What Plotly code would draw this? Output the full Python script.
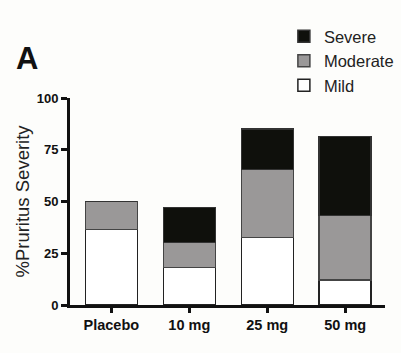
import plotly.graph_objects as go

categories = ["Placebo", "10 mg", "25 mg", "50 mg"]
mild = [36.5, 18.0, 32.5, 12.0]
moderate = [13.5, 12.3, 33.0, 31.3]
severe = [0.0, 16.7, 19.5, 38.0]
y_ticks = [0, 25, 50, 75, 100]

fig = go.Figure()
fig.add_trace(go.Bar(x=categories, y=mild, name="Mild", legendgroup="a",
                     marker=dict(color="#ffffff", line=dict(color="#222222", width=1.5))))
fig.add_trace(go.Bar(x=categories, y=moderate, name="Moderate", legendgroup="b",
                     marker=dict(color="#9a9898", line=dict(color="#444444", width=1.5))))
fig.add_trace(go.Bar(x=categories, y=severe, name="Severe", legendgroup="c",
                     marker=dict(color="#0f100c", line=dict(color="#333333", width=1.5))))

fig.update_layout(
    barmode="stack",
    bargap=0.333,
    width=401, height=353,
    margin=dict(l=70, r=16, t=98, b=48, autoexpand=False),
    paper_bgcolor="#fdfdfb",
    plot_bgcolor="#fdfdfb",
    font=dict(family="Liberation Sans, Arial, sans-serif", color="#111111"),
    showlegend=True,
    legend=dict(traceorder="reversed", x=0.679, xanchor="left", y=0.946, yanchor="top",
                yref="container", font=dict(size=16.5, color="#222222"),
                tracegroupgap=3, bgcolor="rgba(0,0,0,0)"),
    annotations=[dict(text="<b>A</b>", x=(27 - 70) / 315, y=(305 - 58) / 207,
                      xref="paper", yref="paper", xanchor="center", yanchor="middle",
                      showarrow=False, font=dict(size=31, color="#111111"))],
)

fig.update_xaxes(range=[-0.53, 3.51], showline=True, linecolor="#111111", linewidth=3,
                 ticks="outside", ticklen=5, tickwidth=2.5, tickcolor="#111111",
                 tickfont=dict(size=14.5, color="#111111", weight="bold"),
                 showgrid=False, zeroline=False)
fig.update_yaxes(range=[0, 100], tickvals=y_ticks, showline=True, linecolor="#111111", linewidth=3,
                 ticks="outside", ticklen=6, tickwidth=2.5, tickcolor="#111111",
                 tickfont=dict(size=13, color="#111111", weight="bold"),
                 title=dict(text="%Pruritus Severity", font=dict(size=18.5, color="#222222"), standoff=3),
                 showgrid=False, zeroline=False)

fig.write_html("out.html")
